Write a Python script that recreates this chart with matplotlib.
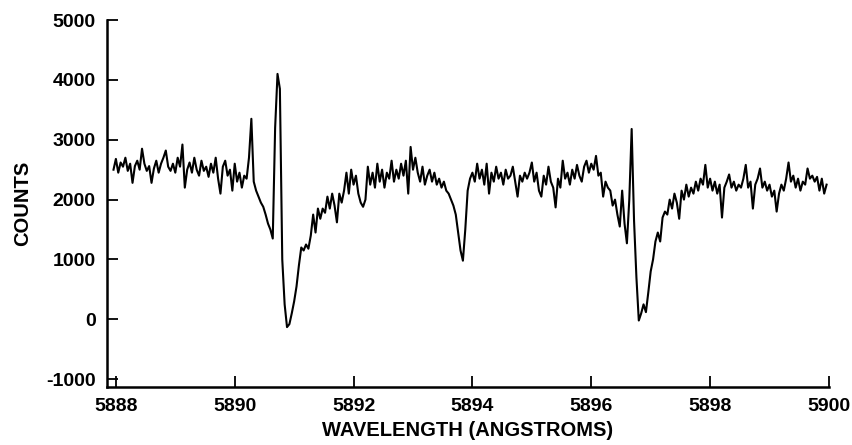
import numpy as np
import matplotlib
matplotlib.use("Agg")
import matplotlib.pyplot as plt

# sampled every 0.04 A starting at 5887.96 A
wave_start = 5887.96
wave_step = 0.04

counts = [
    # 5887.96 - 5888.92
    2500, 2680, 2450, 2620, 2550, 2700, 2480, 2600, 2280, 2560, 2650, 2500, 2850,
    2600, 2480, 2560, 2280, 2520, 2650, 2450, 2600, 2700, 2820, 2550, 2480,
    # 5888.96 - 5889.92
    2600, 2450, 2700, 2550, 2920, 2200, 2500, 2620, 2450, 2700, 2500, 2400, 2650,
    2480, 2550, 2380, 2600, 2450, 2700, 2350, 2100, 2550, 2650, 2400, 2500,
    # 5889.96 - 5890.92
    2150, 2600, 2300, 2450, 2200, 2400, 2350, 2700, 3350, 2300, 2150, 2050, 1950,
    1880, 1750, 1600, 1500, 1350, 3200, 4100, 3850, 1000, 250, -130, -80,
    # 5890.96 - 5891.92
    100, 300, 550, 900, 1200, 1150, 1250, 1180, 1400, 1750, 1450, 1850, 1680,
    1850, 1780, 2050, 1850, 2100, 1900, 1620, 2100, 1950, 2150, 2450, 2100,
    # 5891.96 - 5892.92
    2500, 2250, 2400, 2100, 1950, 1880, 2000, 2550, 2250, 2450, 2200, 2600, 2300,
    2500, 2200, 2450, 2350, 2650, 2300, 2500, 2350, 2600, 2400, 2650, 2100,
    # 5892.96 - 5893.92
    2880, 2500, 2700, 2450, 2300, 2550, 2250, 2400, 2500, 2300, 2450, 2250, 2350,
    2200, 2300, 2150, 2100, 2000, 1900, 1750, 1450, 1150, 980, 1500, 2150,
    # 5893.96 - 5894.92
    2350, 2450, 2300, 2600, 2350, 2500, 2250, 2600, 2100, 2450, 2300, 2550, 2350,
    2450, 2250, 2500, 2350, 2400, 2550, 2300, 2050, 2400, 2300, 2450, 2350,
    # 5894.96 - 5895.92
    2450, 2620, 2300, 2450, 2150, 2050, 2400, 2250, 2550, 2300, 2200, 1870, 2350,
    2200, 2650, 2350, 2450, 2250, 2500, 2350, 2580, 2400, 2300, 2550, 2650,
    # 5895.96 - 5896.92
    2450, 2600, 2500, 2730, 2400, 2450, 2050, 2300, 2200, 2150, 1900, 2000, 1750,
    1550, 2150, 1600, 1270, 2000, 3180, 1650, 700, -20, 100, 250, 120,
    # 5896.96 - 5897.92
    450, 800, 1000, 1300, 1450, 1300, 1700, 1800, 1750, 2000, 1850, 2100, 1950,
    1680, 2150, 2000, 2250, 2050, 2200, 2100, 2300, 2150, 2350, 2250, 2580,
    # 5897.96 - 5898.92
    2200, 2350, 2150, 2300, 2100, 2250, 1700, 2200, 2300, 2420, 2200, 2300, 2150,
    2250, 2200, 2350, 2580, 2200, 2300, 1850, 2250, 2350, 2520, 2200, 2300,
    # 5898.96 - 5899.96
    2150, 2250, 2050, 2150, 1800, 2100, 2250, 2150, 2350, 2620, 2300, 2400, 2200,
    2350, 2150, 2300, 2250, 2520, 2350, 2400, 2300, 2380, 2150, 2350, 2100, 2250,
]

wavelength = wave_start + wave_step * np.arange(len(counts))

x_ticks = [5888, 5890, 5892, 5894, 5896, 5898, 5900]
y_ticks = [-1000, 0, 1000, 2000, 3000, 4000, 5000]

plt.rcParams['font.family'] = ['Liberation Sans', 'DejaVu Sans']
plt.rcParams['font.weight'] = 'bold'

fig = plt.figure(figsize=(8.53, 4.45), dpi=100)
ax = fig.add_axes([0.1254, 0.130, 0.8464, 0.825])

ax.plot(wavelength, counts, color='black', linewidth=1.5)

ax.set_xlim(5887.85, 5900)
ax.set_ylim(-1133, 5000)
ax.set_xticks(x_ticks)
ax.set_yticks(y_ticks)
ax.set_xticklabels([str(t) for t in x_ticks], fontsize=14, fontweight='bold')
ax.set_yticklabels([str(t) for t in y_ticks], fontsize=14, fontweight='bold')

ax.spines['top'].set_visible(False)
ax.spines['right'].set_visible(False)
ax.spines['left'].set_linewidth(1.8)
ax.spines['bottom'].set_linewidth(1.8)
ax.tick_params(direction='in', length=8, width=1.3, pad=8)

ax.set_xlabel("WAVELENGTH (ANGSTROMS)", fontsize=14.5, fontweight='bold', labelpad=4)
ax.set_ylabel("COUNTS", fontsize=14.5, fontweight='bold', labelpad=10)

fig.savefig("out.png", dpi=100)
